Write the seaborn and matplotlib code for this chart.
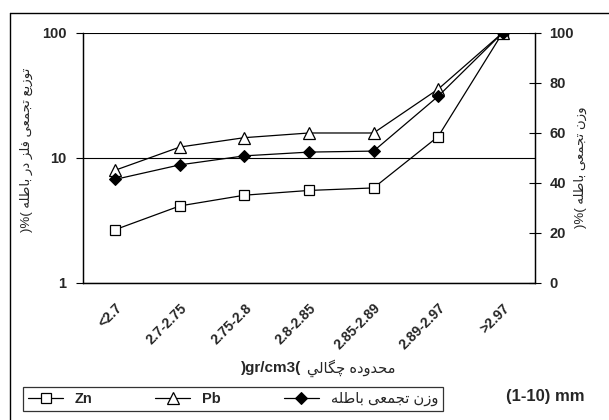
import numpy as np
import pandas as pd
import matplotlib
matplotlib.use("Agg")
import matplotlib.pyplot as plt
from matplotlib.lines import Line2D
import seaborn as sns

# داده ها
density_bins = ["<2.7", "2.7-2.75", "2.75-2.8", "2.8-2.85", "2.85-2.89", "2.89-2.97", ">2.97"]
zn_cum = [2.67, 4.13, 5.03, 5.49, 5.75, 14.8, 100]
pb_cum = [7.97, 12.2, 14.5, 15.8, 15.8, 35.4, 100]
weight_cum = [41.4, 47.2, 50.8, 52.3, 52.7, 74.6, 100]
left_ticks = [1, 10, 100]
right_ticks = [0, 20, 40, 60, 80, 100]

# شکل دادن حروف عربی/فارسی (matplotlib خودش shaping نمی کند)
FORMS = {  # isolated, final, initial, medial
    "ا": ("\uFE8D", "\uFE8E", None, None),
    "ب": ("\uFE8F", "\uFE90", "\uFE91", "\uFE92"),
    "ت": ("\uFE95", "\uFE96", "\uFE97", "\uFE98"),
    "ج": ("\uFE9D", "\uFE9E", "\uFE9F", "\uFEA0"),
    "ح": ("\uFEA1", "\uFEA2", "\uFEA3", "\uFEA4"),
    "د": ("\uFEA9", "\uFEAA", None, None),
    "ر": ("\uFEAD", "\uFEAE", None, None),
    "ز": ("\uFEAF", "\uFEB0", None, None),
    "ط": ("\uFEC1", "\uFEC2", "\uFEC3", "\uFEC4"),
    "ع": ("\uFEC9", "\uFECA", "\uFECB", "\uFECC"),
    "ف": ("\uFED1", "\uFED2", "\uFED3", "\uFED4"),
    "ل": ("\uFEDD", "\uFEDE", "\uFEDF", "\uFEE0"),
    "م": ("\uFEE1", "\uFEE2", "\uFEE3", "\uFEE4"),
    "ن": ("\uFEE5", "\uFEE6", "\uFEE7", "\uFEE8"),
    "ه": ("\uFEE9", "\uFEEA", "\uFEEB", "\uFEEC"),
    "و": ("\uFEED", "\uFEEE", None, None),
    "ي": ("\uFEF1", "\uFEF2", "\uFEF3", "\uFEF4"),
    "ی": ("\uFBFC", "\uFBFD", "\uFBFE", "\uFBFF"),
    "چ": ("\uFB7A", "\uFB7B", "\uFB7C", "\uFB7D"),
    "گ": ("\uFB92", "\uFB93", "\uFB94", "\uFB95"),
}


def vis(word):
    out = []
    for i, c in enumerate(word):
        f = FORMS.get(c)
        if f is None:
            out.append(c)
            continue
        prev = i > 0 and word[i - 1] in FORMS and FORMS[word[i - 1]][2] is not None
        nxt = i < len(word) - 1 and word[i + 1] in FORMS and f[2] is not None
        if prev and nxt:
            out.append(f[3])
        elif prev:
            out.append(f[1])
        elif nxt:
            out.append(f[2])
        else:
            out.append(f[0])
    return "".join(reversed(out))


def rtl(text):
    return " ".join(vis(w) for w in reversed(text.split()))


left_label = ")%( " + rtl("توزیع تجمعی فلز در باطله")
right_label = ")%( " + rtl("وزن تجمعی باطله")
x_label_fa = rtl("محدوده چگالي")
weight_name = rtl("وزن تجمعی باطله")

sns.set_style("white")
plt.rcParams["font.family"] = ["Liberation Sans", "DejaVu Sans"]

df = pd.DataFrame({"pos": np.arange(len(density_bins)), "Zn": zn_cum, "Pb": pb_cum, "w": weight_cum})

fig = plt.figure(figsize=(6.09, 4.20), dpi=100)
ax = fig.add_axes([83 / 609, 1 - 283 / 420, (535 - 83) / 609, (283 - 32.7) / 420])
ax2 = ax.twinx()

sns.lineplot(data=df, x="pos", y="Zn", ax=ax, color="black", lw=0.9, marker="s", ms=6.5,
             markerfacecolor="white", markeredgecolor="black", markeredgewidth=0.9, label="Zn", legend=False)
sns.lineplot(data=df, x="pos", y="Pb", ax=ax, color="black", lw=0.9, marker="^", ms=8,
             markerfacecolor="white", markeredgecolor="black", markeredgewidth=0.9, label="Pb", legend=False)
sns.lineplot(data=df, x="pos", y="w", ax=ax2, color="black", lw=0.9, marker="D", ms=6,
             markerfacecolor="black", markeredgecolor="black", label=weight_name, legend=False)

ax.set_yscale("log")
ax.set_ylim(1, 100)
ax.set_yticks(left_ticks)
ax.set_yticklabels([str(t) for t in left_ticks])
ax.yaxis.set_minor_locator(matplotlib.ticker.NullLocator())
ax2.set_ylim(0, 100)
ax2.set_yticks(right_ticks)
ax.set_xlim(-0.5, len(density_bins) - 0.5)

ax.set_xticks(df["pos"])
ax.set_xticklabels(density_bins, rotation=45, ha="right", rotation_mode="anchor", fontsize=10, fontweight="bold")
ax.set_xticks(np.arange(-0.5, len(density_bins)), minor=True)
ax.tick_params(axis="x", which="major", length=0, pad=13)
ax.tick_params(axis="x", which="minor", length=4, width=0.8, direction="out", color="black")
ax.tick_params(axis="y", which="major", length=5, width=0.8, direction="out", color="black", pad=7, labelsize=10.5)
ax2.tick_params(axis="y", which="major", length=9, width=0.8, direction="inout", color="black", pad=6, labelsize=10.5)
for lab in ax.get_yticklabels() + ax2.get_yticklabels():
    lab.set_fontweight("bold")

ax.yaxis.grid(True, color="black", lw=0.8)
ax.set_xlabel("")
ax.set_ylabel("")
ax2.set_ylabel("")
for a in (ax, ax2):
    a.spines["top"].set_visible(False)
    for s in ("left", "right", "bottom"):
        a.spines[s].set_color("black")
        a.spines[s].set_linewidth(0.9)

fig.text(26 / 609, 1 - 150 / 420, left_label, rotation=90, ha="center", va="center", fontsize=9.5)
fig.text(580 / 609, 1 - 167 / 420, right_label, rotation=90, ha="center", va="center", fontsize=9.5)
fig.text(301 / 609, 1 - 368 / 420, ")gr/cm3(", ha="right", va="center", fontsize=11, fontweight="bold")
fig.text(307 / 609, 1 - 368 / 420, x_label_fa, ha="left", va="center", fontsize=10.5)
fig.text(545 / 609, 1 - 397 / 420, "(1-10) mm", ha="center", va="center", fontsize=12, fontweight="bold")

handles = ax.get_lines()[:2] + ax2.get_lines()[:1]
leg = fig.legend(handles, [h.get_label() for h in handles], ncol=3, loc="lower left",
                 bbox_to_anchor=(23 / 609, 1 - 411 / 420, (443 - 23) / 609, 28 / 420), mode="expand",
                 frameon=True, fancybox=False, edgecolor="black", borderaxespad=0, handlelength=2.4,
                 prop={"size": 10.5, "weight": "bold"}, borderpad=0.35)
leg.get_frame().set_linewidth(0.9)
leg.get_texts()[2].set_fontweight("normal")

# کادر بیرونی نمودار
fig.add_artist(Line2D([10 / 609, 10 / 609], [0, 1 - 13 / 420], color="black", lw=1, transform=fig.transFigure))
fig.add_artist(Line2D([10 / 609, 1], [1 - 13 / 420, 1 - 13 / 420], color="black", lw=1, transform=fig.transFigure))

plt.savefig("out.png", dpi=100)
